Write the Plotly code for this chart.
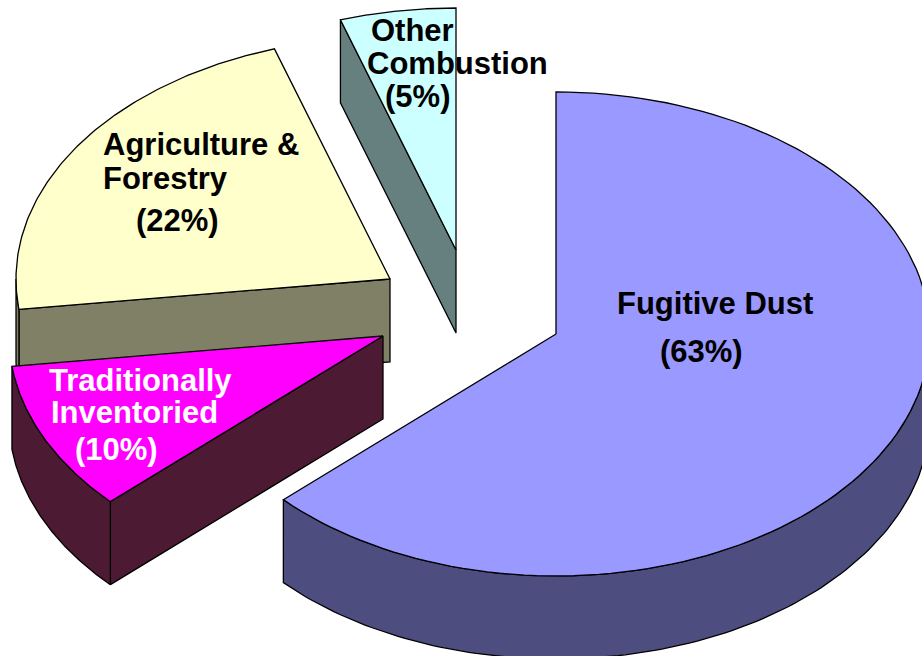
import numpy as np
import plotly.graph_objects as go

categories = ["Other Combustion", "Agriculture & Forestry", "Traditionally Inventoried", "Fugitive Dust"]
shares = [5, 22, 10, 63]
top_colors = ["#CCFFFF", "#FFFFCC", "#FF00FF", "#9999FF"]
side_colors = ["#668080", "#808066", "#4D1A33", "#4D4D80"]
# exploded slice centres in pixels
centers = {"Other Combustion": (456, 250), "Agriculture & Forestry": (390, 279),
           "Traditionally Inventoried": (383, 336), "Fugitive Dust": (556, 334)}
RX, RY, DEPTH = 374, 242, 83
W, H = 922, 656

label_lines = ["Other", "Combustion", "(5%)", "Agriculture &", "Forestry", "(22%)",
               "Traditionally", "Inventoried", "(10%)", "Fugitive Dust", "(63%)"]
label_x = [371, 367, 385, 103, 103, 136, 49, 51, 75, 617, 660]
label_y = [30, 63, 96, 144, 178, 220, 380, 412, 449, 303, 351]
label_colors = ["#000000"] * 6 + ["#FFFFFF"] * 3 + ["#000000"] * 2

# cumulative clockwise start angle, beginning at 12 o'clock with Fugitive Dust
starts = {}
acc = 0.0
for name in ["Fugitive Dust", "Traditionally Inventoried", "Agriculture & Forestry", "Other Combustion"]:
    s = shares[categories.index(name)]
    starts[name] = (acc, acc + s * 3.6)
    acc += s * 3.6


def rim(c, a0, a1, n=120):
    t = np.radians(np.linspace(a0, a1, n))
    return c[0] + RX * np.sin(t), c[1] - RY * np.cos(t)


fig = go.Figure()


def poly(x, y, fill, width=1.3):
    fig.add_trace(go.Scatter(x=list(x) + [x[0]], y=list(y) + [y[0]], mode="lines", fill="toself",
                             fillcolor=fill, line=dict(color="#000000", width=width),
                             hoverinfo="skip", showlegend=False))


for name, top, side in zip(categories, top_colors, side_colors):
    c = centers[name]
    a0, a1 = starts[name]
    rx, ry = rim(c, a0, a1)
    # radial cut face that looks toward the viewer (Fugitive Dust's is hidden)
    if name != "Fugitive Dust":
        poly([rx[0], c[0], c[0], rx[0]], [ry[0], c[1], c[1] + DEPTH, ry[0] + DEPTH], side)
    # outer rim wall: only the part facing front (angles 90..270 degrees)
    lo, hi = max(a0, 90), min(a1, 270)
    if hi > lo:
        wx, wy = rim(c, lo, hi)
        poly(np.r_[wx, wx[::-1]], np.r_[wy, wy[::-1] + DEPTH], side)
    # top face
    poly(np.r_[c[0], rx], np.r_[c[1], ry], top)

for text, x, y, color in zip(label_lines, label_x, label_y, label_colors):
    fig.add_annotation(x=x, y=y, xref="x", yref="y", text=text, showarrow=False, xanchor="left", yanchor="middle",
                       borderpad=0, borderwidth=0,
                       font=dict(family="Liberation Sans", size=31, color=color, weight="bold"))

fig.update_xaxes(visible=False, range=[0, W], fixedrange=True)
fig.update_yaxes(visible=False, range=[H, 0], fixedrange=True)
fig.update_layout(width=W, height=H, margin=dict(l=0, r=0, t=0, b=0), paper_bgcolor="#FFFFFF",
                  plot_bgcolor="#FFFFFF", showlegend=False)
fig.write_html("out.html", config={"displayModeBar": False},
               post_script="document.body.style.margin='0';document.documentElement.style.overflow='hidden';")
